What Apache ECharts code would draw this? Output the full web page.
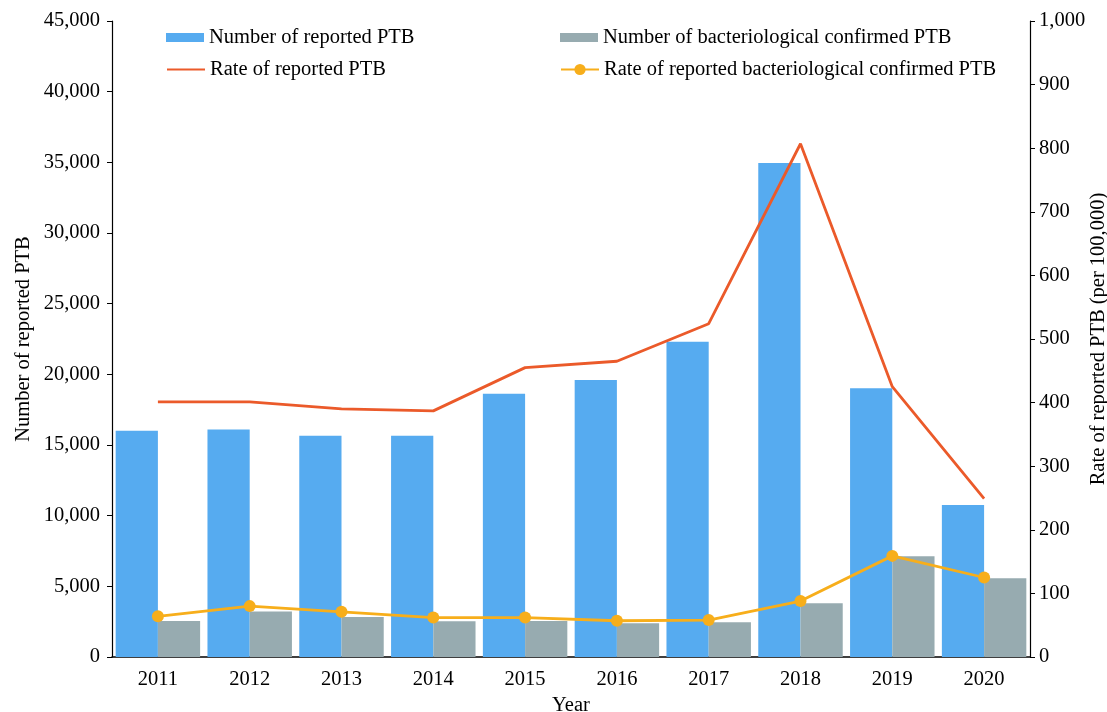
<!DOCTYPE html>
<html><head><meta charset="utf-8">
<script src="https://cdn.jsdelivr.net/npm/echarts@6/dist/echarts.min.js"></script>
<style>html,body{margin:0;padding:0;background:#fff}#c{width:1107px;height:712px}</style>
</head><body><div id="c"></div>
<script>
const years = ['2011','2012','2013','2014','2015','2016','2017','2018','2019','2020'];
const reportedNum = [16000, 16100, 15650, 15650, 18630, 19600, 22300, 34950, 19010, 10750];
const confirmedNum = [2550, 3215, 2830, 2530, 2550, 2390, 2460, 3800, 7130, 5570];
const reportedRate = [401, 401, 390, 387, 455, 465, 524, 807, 425, 249];
const confirmedRate = [64, 80, 71, 62, 62, 57, 58, 88, 159, 125];

const FONT = '"Liberation Serif", "Times New Roman", serif';
const FS = 20.5;
const chart = echarts.init(document.getElementById('c'));
const legendText = {fontFamily: FONT, fontSize: FS, color: '#000'};
function lg(name, left, top, h, icon) {
  const item = {name: name};
  if (icon) item.icon = icon;
  if (name === 'Rate of reported PTB') item.itemStyle = {opacity: 0};
  return {orient: 'vertical', left: left, top: top, padding: 0, itemWidth: 38, itemHeight: h,
          textStyle: legendText, data: [item]};
}
chart.setOption({
  animation: false,
  textStyle: {fontFamily: FONT},
  grid: {left: 112, right: 77, top: 21, bottom: 55, outerBoundsMode: 'none', containLabel: false},
  legend: [
    lg('Number of reported PTB', 166, 27, 9, 'rect'),
    lg('Rate of reported PTB', 166, 59, 11),
    lg('Number of bacteriological confirmed PTB', 560, 27, 9, 'rect'),
    lg('Rate of reported bacteriological confirmed PTB', 560, 59, 14)
  ],
  xAxis: {
    type: 'category', data: years, name: 'Year', nameLocation: 'middle', nameGap: 38,
    nameTextStyle: {fontFamily: FONT, fontSize: FS, color: '#000'},
    axisLine: {lineStyle: {color: '#000', width: 1.5}}, axisTick: {show: false},
    axisLabel: {fontFamily: FONT, fontSize: FS, color: '#000', margin: 12}
  },
  yAxis: [
    {type: 'value', min: 0, max: 45000, interval: 5000, name: 'Number of reported PTB',
     nameLocation: 'middle', nameGap: 78, nameRotate: 90, nameMoveOverlap: false,
     nameTextStyle: {fontFamily: FONT, fontSize: FS, color: '#000'},
     axisLine: {show: true, lineStyle: {color: '#000', width: 1.2}},
     axisTick: {show: true, length: 5, lineStyle: {color: '#000'}},
     splitLine: {show: false},
     axisLabel: {fontFamily: FONT, fontSize: FS, color: '#000', margin: 12,
       formatter: v => v.toLocaleString('en-US')}},
    {type: 'value', min: 0, max: 1000, interval: 100, name: 'Rate of reported PTB (per 100,000)',
     nameLocation: 'middle', nameGap: 58, nameRotate: 90, nameMoveOverlap: false,
     nameTextStyle: {fontFamily: FONT, fontSize: FS, color: '#000'},
     axisLine: {show: true, lineStyle: {color: '#000', width: 1.2}},
     axisTick: {show: true, length: 5, lineStyle: {color: '#000'}},
     splitLine: {show: false},
     axisLabel: {fontFamily: FONT, fontSize: FS, color: '#000', margin: 9,
       formatter: v => v.toLocaleString('en-US')}}
  ],
  series: [
    {name: 'Number of reported PTB', type: 'bar', data: reportedNum, barGap: '0%', barCategoryGap: '8%',
     itemStyle: {color: '#56ABF0'}},
    {name: 'Number of bacteriological confirmed PTB', type: 'bar', data: confirmedNum,
     itemStyle: {color: '#97ABB0'}},
    {name: 'Rate of reported PTB', type: 'line', yAxisIndex: 1, data: reportedRate,
     symbol: 'none', lineStyle: {color: '#EB5A2A', width: 2.8}, itemStyle: {color: '#EB5A2A'}},
    {name: 'Rate of reported bacteriological confirmed PTB', type: 'line', yAxisIndex: 1, data: confirmedRate,
     symbol: 'circle', symbolSize: 12, lineStyle: {color: '#F7AE1B', width: 2.8}, itemStyle: {color: '#F7AE1B'}}
  ]
});
</script></body></html>
